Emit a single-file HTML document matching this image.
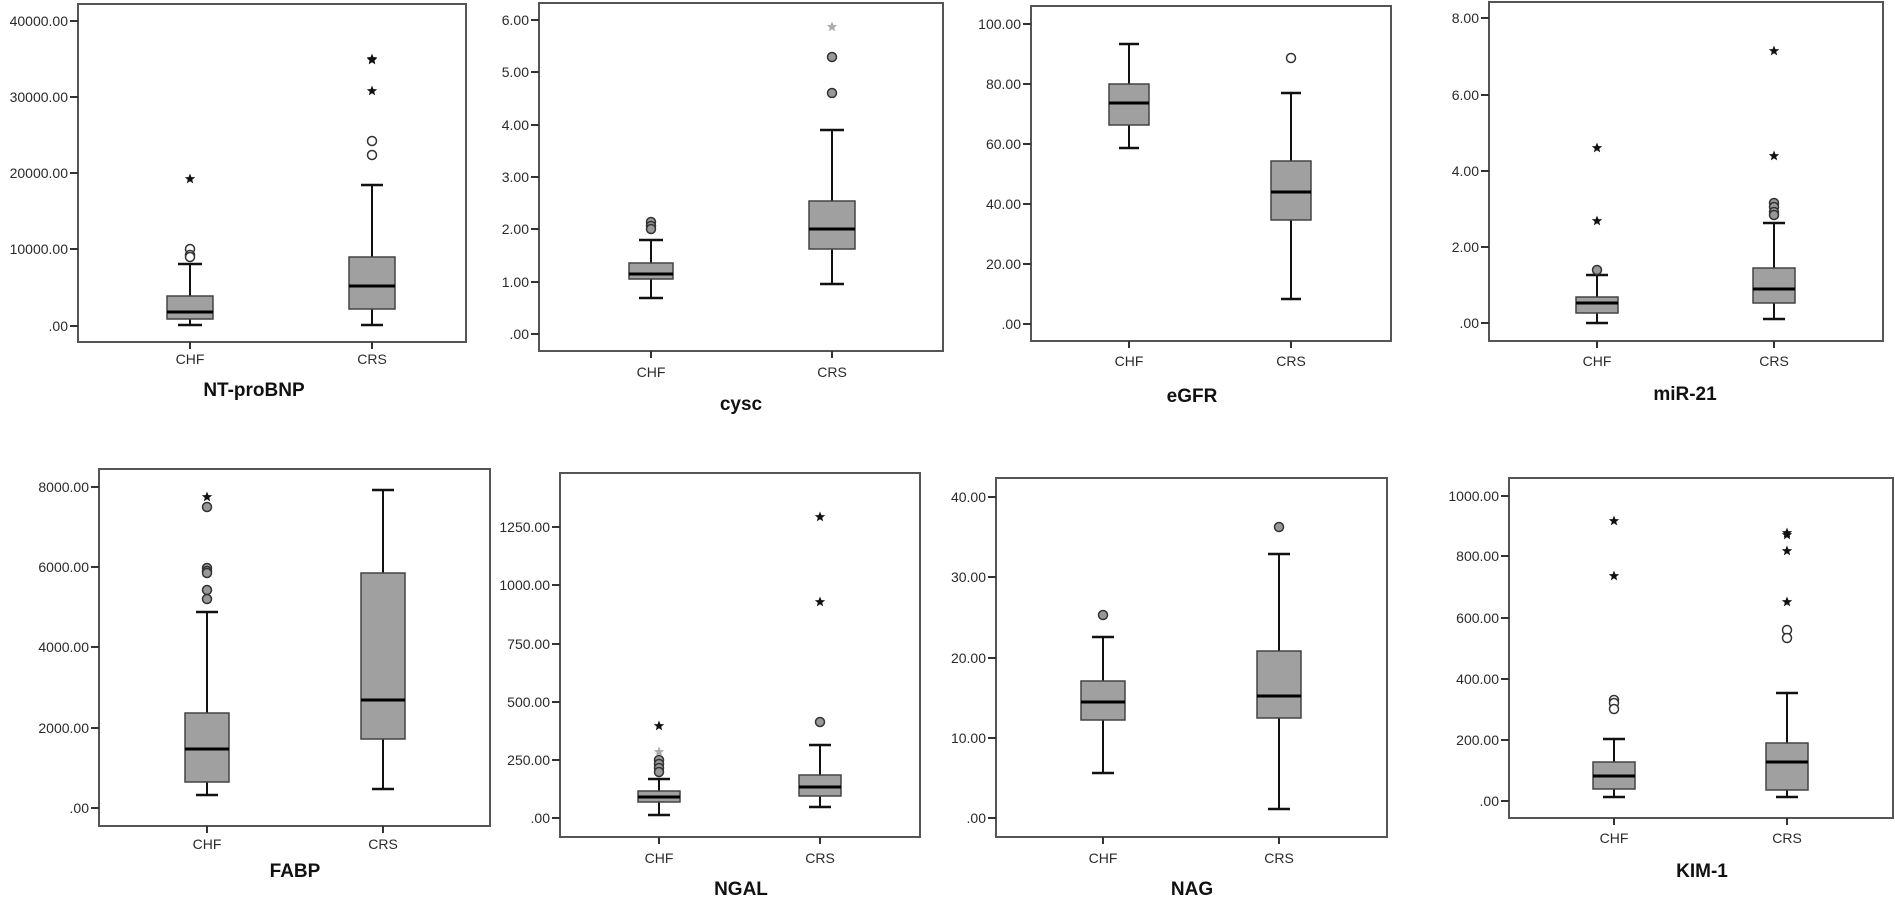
<!DOCTYPE html>
<html><head><meta charset="utf-8"><style>
html,body{margin:0;padding:0;background:#fff;}
svg{display:block;}
.t{font-family:"Liberation Sans",sans-serif;font-size:14px;fill:#2a2a2a;}
.c{font-family:"Liberation Sans",sans-serif;font-size:14px;fill:#2a2a2a;text-anchor:middle;}
.h{font-family:"Liberation Sans",sans-serif;font-size:19px;font-weight:bold;fill:#111;text-anchor:middle;}
</style></head><body>
<svg id="s" width="1895" height="899" viewBox="0 0 1895 899" xmlns="http://www.w3.org/2000/svg">
<g text-anchor="end" class="t">
<text x="68" y="26">40000.00</text><text x="68" y="102">30000.00</text><text x="68" y="178">20000.00</text><text x="68" y="254">10000.00</text><text x="68" y="331">.00</text>
<text x="529" y="25">6.00</text><text x="529" y="77">5.00</text><text x="529" y="130">4.00</text><text x="529" y="182">3.00</text><text x="529" y="234">2.00</text><text x="529" y="287">1.00</text><text x="529" y="339">.00</text>
<text x="1021" y="29">100.00</text><text x="1021" y="89">80.00</text><text x="1021" y="149">60.00</text><text x="1021" y="209">40.00</text><text x="1021" y="269">20.00</text><text x="1021" y="329">.00</text>
<text x="1479" y="23">8.00</text><text x="1479" y="100">6.00</text><text x="1479" y="176">4.00</text><text x="1479" y="252">2.00</text><text x="1479" y="328">.00</text>
<text x="89" y="492">8000.00</text><text x="89" y="572">6000.00</text><text x="89" y="652">4000.00</text><text x="89" y="733">2000.00</text><text x="89" y="813">.00</text>
<text x="550" y="532">1250.00</text><text x="550" y="590">1000.00</text><text x="550" y="649">750.00</text><text x="550" y="707">500.00</text><text x="550" y="765">250.00</text><text x="550" y="823">.00</text>
<text x="986" y="502">40.00</text><text x="986" y="582">30.00</text><text x="986" y="663">20.00</text><text x="986" y="743">10.00</text><text x="986" y="823">.00</text>
<text x="1499" y="501">1000.00</text><text x="1499" y="561">800.00</text><text x="1499" y="623">600.00</text><text x="1499" y="684">400.00</text><text x="1499" y="745">200.00</text><text x="1499" y="806">.00</text>
</g>
<g class="c">
<text x="190" y="364">CHF</text><text x="372" y="364">CRS</text>
<text x="651" y="377">CHF</text><text x="832" y="377">CRS</text>
<text x="1129" y="366">CHF</text><text x="1291" y="366">CRS</text>
<text x="1597" y="366">CHF</text><text x="1774" y="366">CRS</text>
<text x="207" y="849">CHF</text><text x="383" y="849">CRS</text>
<text x="659" y="863">CHF</text><text x="820" y="863">CRS</text>
<text x="1103" y="863">CHF</text><text x="1279" y="863">CRS</text>
<text x="1614" y="843">CHF</text><text x="1787" y="843">CRS</text>
</g>
<g class="h">
<text x="254" y="396">NT-proBNP</text>
<text x="741" y="410">cysc</text>
<text x="1192" y="402">eGFR</text>
<text x="1685" y="400">miR-21</text>
<text x="295" y="877">FABP</text>
<text x="741" y="895">NGAL</text>
<text x="1192" y="895">NAG</text>
<text x="1702" y="877">KIM-1</text>
</g>
<g id="g"></g>
</svg>
<script>
var P=[
{f:[78,4,466,342],t:[21,97,173,249,326],b:[
 {x:190,w:23,q1:319,q3:296,m:312,hi:264,lo:325,cw:12,o:[[249,0],[255,0],[257,0]],s:[[179,0]]},
 {x:372,w:23,q1:309,q3:257,m:286,hi:185,lo:325,cw:11,o:[[141,0],[155,0]],s:[[91,0],[59,0],[60,0]]}]},
{f:[539,3,943,351],t:[20,72,125,177,229,282,334],b:[
 {x:651,w:22,q1:279,q3:263,m:274,hi:240,lo:298,cw:12,o:[[222,1],[226,1],[229,1]],s:[]},
 {x:832,w:23,q1:249,q3:201,m:229,hi:130,lo:284,cw:12,o:[[93,1],[57,1]],s:[[27,2]]}]},
{f:[1031,6,1391,341],t:[24,84,144,204,264,324],b:[
 {x:1129,w:20,q1:125,q3:84,m:103,hi:44,lo:148,cw:10,o:[],s:[]},
 {x:1291,w:20,q1:220,q3:161,m:192,hi:93,lo:299,cw:10,o:[[58,0]],s:[]}]},
{f:[1489,2,1883,341],t:[18,95,171,247,323],b:[
 {x:1597,w:21,q1:313,q3:297,m:303,hi:275,lo:323,cw:11,o:[[270,1]],s:[[148,0],[221,0]]},
 {x:1774,w:21,q1:303,q3:268,m:289,hi:223,lo:319,cw:11,o:[[203,1],[207,1],[212,1],[215,1]],s:[[51,0],[156,0]]}]},
{f:[99,469,490,826],t:[487,567,647,728,808],b:[
 {x:207,w:22,q1:782,q3:713,m:749,hi:612,lo:795,cw:11,o:[[507,1],[568,1],[571,1],[573,1],[590,1],[599,1]],s:[[497,0]]},
 {x:383,w:22,q1:739,q3:573,m:700,hi:490,lo:789,cw:11,o:[],s:[]}]},
{f:[560,473,920,837],t:[527,585,644,702,760,818],b:[
 {x:659,w:21,q1:802,q3:791,m:797,hi:779,lo:815,cw:11,o:[[760,1],[764,1],[768,1],[772,1]],s:[[726,0],[752,2]]},
 {x:820,w:21,q1:796,q3:775,m:787,hi:745,lo:807,cw:11,o:[[722,1]],s:[[517,0],[602,0]]}]},
{f:[996,478,1387,837],t:[497,577,658,738,818],b:[
 {x:1103,w:22,q1:720,q3:681,m:702,hi:637,lo:773,cw:11,o:[[615,1]],s:[]},
 {x:1279,w:22,q1:718,q3:651,m:696,hi:554,lo:809,cw:11,o:[[527,1]],s:[]}]},
{f:[1509,478,1893,818],t:[496,556,618,679,740,801],b:[
 {x:1614,w:21,q1:789,q3:762,m:776,hi:739,lo:797,cw:11,o:[[700,0],[703,0],[709,0]],s:[[521,0],[576,0]]},
 {x:1787,w:21,q1:790,q3:743,m:762,hi:693,lo:797,cw:11,o:[[630,0],[638,0]],s:[[533,0],[535,0],[551,0],[602,0]]}]}
];
function star(cx,cy,r){var p=[];for(var i=0;i<10;i++){var a=-Math.PI/2+i*Math.PI/5,rr=i%2?r*0.42:r;p.push((cx+rr*Math.cos(a)).toFixed(1)+","+(cy+rr*Math.sin(a)).toFixed(1));}return p.join(" ");}
var h="";
P.forEach(function(p){var f=p.f;
 h+='<rect x="'+f[0]+'" y="'+f[1]+'" width="'+(f[2]-f[0])+'" height="'+(f[3]-f[1])+'" fill="none" stroke="#555" stroke-width="2"/>';
 p.t.forEach(function(y){h+='<line x1="'+(f[0]-8)+'" y1="'+y+'" x2="'+f[0]+'" y2="'+y+'" stroke="#333" stroke-width="2"/>';});
 p.b.forEach(function(b){
  h+='<line x1="'+b.x+'" y1="'+f[3]+'" x2="'+b.x+'" y2="'+(f[3]+7)+'" stroke="#333" stroke-width="2"/>';
  h+='<line x1="'+b.x+'" y1="'+b.hi+'" x2="'+b.x+'" y2="'+b.lo+'" stroke="#111" stroke-width="2"/>';
  h+='<line x1="'+(b.x-b.cw)+'" y1="'+b.hi+'" x2="'+(b.x+b.cw)+'" y2="'+b.hi+'" stroke="#111" stroke-width="2.5"/>';
  h+='<line x1="'+(b.x-b.cw)+'" y1="'+b.lo+'" x2="'+(b.x+b.cw)+'" y2="'+b.lo+'" stroke="#111" stroke-width="2.5"/>';
  h+='<rect x="'+(b.x-b.w)+'" y="'+b.q3+'" width="'+(2*b.w)+'" height="'+(b.q1-b.q3)+'" fill="#a0a0a0" stroke="#444" stroke-width="1.5"/>';
  h+='<line x1="'+(b.x-b.w)+'" y1="'+b.m+'" x2="'+(b.x+b.w)+'" y2="'+b.m+'" stroke="#000" stroke-width="3"/>';
  b.o.forEach(function(o){h+='<circle cx="'+b.x+'" cy="'+o[0]+'" r="4.5" fill="'+(o[1]?'#999':'#fff')+'" stroke="#333" stroke-width="1.5"/>';});
  b.s.forEach(function(s){h+='<polygon points="'+star(b.x,s[0],5.5)+'" fill="'+(s[1]==2?'#aaa':'#111')+'"/>';});
 });
});
document.getElementById('g').innerHTML=h;
</script>
</body></html>
